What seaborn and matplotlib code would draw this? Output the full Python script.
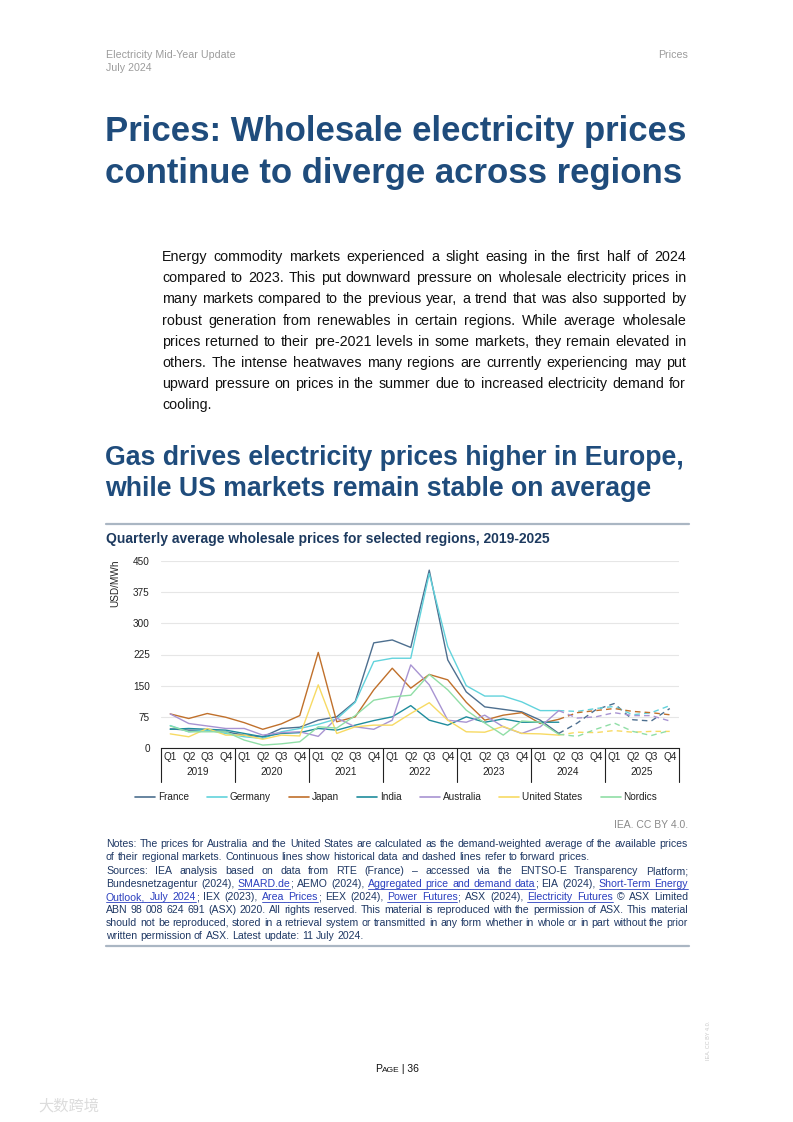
import numpy as np
import seaborn as sns
import matplotlib.pyplot as plt
import matplotlib.transforms as mtransforms
from matplotlib.lines import Line2D

W, H = 793, 1122

#------------------------------------------------------------------------------
# data (USD/MWh), quarters Q1 2019 .. Q4 2025
years = ['2019', '2020', '2021', '2022', '2023', '2024', '2025']
quarters = ['Q1', 'Q2', 'Q3', 'Q4']
regions = ['France', 'Germany', 'Japan', 'India', 'Australia', 'United States', 'Nordics']

# historical: Q1 2019 .. Q2 2024
france_hist = [46, 43, 42, 39, 31, 27, 47, 50, 67, 75, 112, 253, 260, 242, 428, 212, 135, 99, 93, 87, 67, 35]
germany_hist = [54, 39, 43, 35, 27, 23, 39, 47, 57, 70, 110, 208, 216, 216, 420, 244, 150, 125, 125, 111, 90, 90]
japan_hist = [82, 71, 83, 74, 61, 45, 58, 78, 230, 63, 75, 140, 192, 144, 177, 164, 110, 67, 79, 85, 59, 69]
india_hist = [45, 47, 45, 43, 35, 27, 35, 37, 47, 43, 55, 66, 75, 102, 67, 55, 75, 62, 70, 62, 62, 62]
australia_hist = [82, 59, 53, 47, 47, 31, 37, 39, 28, 72, 51, 45, 67, 200, 152, 67, 62, 79, 51, 35, 51, 90]
us_hist = [34, 27, 47, 31, 31, 21, 31, 29, 152, 35, 51, 55, 55, 83, 109, 67, 39, 38, 52, 35, 34, 31]
nordics_hist = [53, 39, 39, 39, 19, 7, 10, 15, 51, 48, 78, 115, 123, 127, 177, 140, 91, 60, 31, 65, 62, 33]

# forward: Q2 2024 .. Q4 2025
france_fwd = [35, 60, 92, 107, 68, 65, 95]
germany_fwd = [90, 88, 95, 100, 80, 85, 102]
japan_fwd = [69, 85, 90, 95, 88, 85, 80]
india_fwd = []
australia_fwd = [90, 72, 75, 85, 78, 78, 65]
us_fwd = [31, 38, 37, 42, 38, 40, 40]
nordics_fwd = [33, 28, 45, 60, 40, 30, 42]

hist = [france_hist, germany_hist, japan_hist, india_hist, australia_hist, us_hist, nordics_hist]
fwd = [france_fwd, germany_fwd, japan_fwd, india_fwd, australia_fwd, us_fwd, nordics_fwd]
colors = ['#4D6F8F', '#62D3DC', '#C0702B', '#1F8C9C', '#A894D2', '#F7DA63', '#90DEA6']

#------------------------------------------------------------------------------
sns.set_theme(style='white')
plt.rcParams['font.family'] = ['Liberation Sans', 'DejaVu Sans']

fig = plt.figure(figsize=(W / 100, H / 100), dpi=100)
renderer = fig.canvas.get_renderer()


def fx(px):
    return px / W


def fy(py):
    return 1 - py / H


def text_width(s, size, weight='normal'):
    t = fig.text(0, 0, s, fontsize=size, fontweight=weight)
    w = t.get_window_extent(renderer).width
    t.remove()
    return w


def parse_line(line):
    # words as lists of (segment, is_link); also link state of each space
    words, gaps, cur, seg, link = [], [], [], '', False
    for ch in line:
        if ch in '{}':
            if seg:
                cur.append((seg, link))
                seg = ''
            link = (ch == '{')
        elif ch == ' ':
            if seg:
                cur.append((seg, link))
                seg = ''
            words.append(cur)
            gaps.append(link)
            cur = []
        else:
            seg += ch
    if seg:
        cur.append((seg, link))
    if cur:
        words.append(cur)
    return words, gaps


def justified(lines, x0, x1, baselines, size, color, last=(), weight='normal',
              link_color='#2B3FBF'):
    space = text_width('a a', size, weight) - text_width('aa', size, weight)
    for i, (line, yb) in enumerate(zip(lines, baselines)):
        words, gaps = parse_line(line)
        widths = [[text_width(s, size, weight) for s, _ in w] for w in words]
        total = sum(sum(w) for w in widths)
        if i in last or len(words) < 2:
            gap = space
        else:
            gap = (x1 - x0 - total) / (len(words) - 1)
        x = x0
        for j, (w, ws) in enumerate(zip(words, widths)):
            for (s, lk), sw in zip(w, ws):
                fig.text(fx(x), fy(yb), s, fontsize=size, fontweight=weight,
                         color=link_color if lk else color, va='baseline', ha='left')
                if lk:
                    fig.add_artist(Line2D([fx(x), fx(x + sw)], [fy(yb + 1.6)] * 2,
                                          transform=fig.transFigure, lw=0.6, color=link_color))
                x += sw
            if j < len(gaps) and gaps[j] and j + 1 < len(words):
                fig.add_artist(Line2D([fx(x), fx(x + gap)], [fy(yb + 1.6)] * 2,
                                      transform=fig.transFigure, lw=0.6, color=link_color))
            x += gap


#------------------------------------------------------------------------------
# page header
grey = '#9C9C9C'
fig.text(fx(106), fy(58), 'Electricity Mid-Year Update', fontsize=7.7, color=grey, va='baseline')
fig.text(fx(106), fy(71), 'July 2024', fontsize=7.7, color=grey, va='baseline')
fig.text(fx(688), fy(58), 'Prices', fontsize=7.7, color=grey, va='baseline', ha='right')

title_blue = '#1F4C7C'
fig.text(fx(105), fy(141), 'Prices: Wholesale electricity prices', fontsize=25,
         fontweight='bold', color=title_blue, va='baseline')
fig.text(fx(105), fy(183), 'continue to diverge across regions', fontsize=25,
         fontweight='bold', color=title_blue, va='baseline')

body = [
    'Energy commodity markets experienced a slight easing in the first half of 2024',
    'compared to 2023. This put downward pressure on wholesale electricity prices in',
    'many markets compared to the previous year, a trend that was also supported by',
    'robust generation from renewables in certain regions. While average wholesale',
    'prices returned to their pre-2021 levels in some markets, they remain elevated in',
    'others. The intense heatwaves many regions are currently experiencing may put',
    'upward pressure on prices in the summer due to increased electricity demand for',
    'cooling.',
]
justified(body, 162, 686, [261 + 21.2 * i for i in range(8)], 10.3, '#111111', last=(7,))

fig.text(fx(105), fy(465), 'Gas drives electricity prices higher in Europe,', fontsize=19.2,
         fontweight='bold', color=title_blue, va='baseline')
fig.text(fx(105), fy(496), 'while US markets remain stable on average', fontsize=19.2,
         fontweight='bold', color=title_blue, va='baseline')

rule = '#AAB6C3'
fig.add_artist(Line2D([fx(106), fx(689)], [fy(524)] * 2, transform=fig.transFigure, lw=1.6, color=rule))
fig.add_artist(Line2D([fx(106), fx(689)], [fy(946)] * 2, transform=fig.transFigure, lw=1.6, color=rule))

fig.text(fx(106), fy(543), 'Quarterly average wholesale prices for selected regions, 2019-2025',
         fontsize=10, fontweight='bold', color='#1D3A5F', va='baseline')

#------------------------------------------------------------------------------
# chart
ax = fig.add_axes([fx(161), fy(748), (679 - 161) / W, 187 / H])
lw = 1.0
for i, name in enumerate(regions):
    sns.lineplot(x=np.arange(len(hist[i])), y=hist[i], color=colors[i], linewidth=lw, ax=ax)
    if fwd[i]:
        start = len(hist[i]) - 1
        sns.lineplot(x=np.arange(start, start + len(fwd[i])), y=fwd[i], color=colors[i],
                     linewidth=lw, ax=ax)
        ax.lines[-1].set_dashes((4, 3))

ax.set_xlim(-0.5, 27.5)
ax.set_ylim(0, 450)
ax.set_yticks(range(0, 451, 75))
ax.grid(axis='y', color='#E6E6E6', lw=0.8)
ax.grid(axis='x', visible=False)
for s in ['top', 'right', 'left']:
    ax.spines[s].set_visible(False)
ax.spines['bottom'].set_color('#222222')
ax.spines['bottom'].set_linewidth(0.8)
ax.set_xticks(range(28))
ax.set_xticklabels(quarters * len(years))
ax.tick_params(axis='x', length=0, pad=3, labelsize=7.2, labelcolor='#222222')
ax.tick_params(axis='y', length=0, pad=8, labelsize=7.2, labelcolor='#222222')
ax.set_xlabel('')
ax.set_ylabel('')

blend = mtransforms.blended_transform_factory(ax.transData, ax.transAxes)
for k, yr in enumerate(years):
    ax.text(1.5 + 4 * k, -0.128, yr, transform=blend, ha='center', va='center',
            fontsize=7.2, color='#222222')
for k in range(len(years) + 1):
    ax.plot([-0.5 + 4 * k] * 2, [0, -0.182], transform=blend, clip_on=False,
            color='#222222', lw=0.8)

fig.text(fx(115), fy(583), 'USD/MWh', rotation=90, fontsize=7.2, color='#222222',
         ha='center', va='center')

handles = [Line2D([0], [0], color=c, lw=1.2) for c in colors]
fig.legend(handles, regions, loc='center', bbox_to_anchor=(fx(396), fy(797)), ncol=7,
           frameon=False, fontsize=7.2, handlelength=2.0, handletextpad=0.3,
           columnspacing=1.8, labelcolor='#222222')

#------------------------------------------------------------------------------
# source and notes
fig.text(fx(688), fy(828), 'IEA. CC BY 4.0.', fontsize=7.5, color='#8A8A8A', ha='right', va='baseline')

notes = [
    'Notes: The prices for Australia and the United States are calculated as the demand-weighted average of the available prices',
    'of their regional markets. Continuous lines show historical data and dashed lines refer to forward prices.',
    'Sources: IEA analysis based on data from RTE (France) \u2013 accessed via the ENTSO-E Transparency Platform;',
    'Bundesnetzagentur (2024), {SMARD.de}; AEMO (2024), {Aggregated price and demand data}; EIA (2024), {Short-Term Energy}',
    '{Outlook, July 2024}; IEX (2023), {Area Prices}; EEX (2024), {Power Futures}; ASX (2024), {Electricity Futures} \u00a9 ASX Limited',
    'ABN 98 008 624 691 (ASX) 2020. All rights reserved. This material is reproduced with the permission of ASX. This material',
    'should not be reproduced, stored in a retrieval system or transmitted in any form whether in whole or in part without the prior',
    'written permission of ASX. Latest update: 11 July 2024.',
]
note_y = [847, 860, 874, 887, 900, 913, 926, 939]
justified(notes, 106, 688, note_y, 7.6, '#1F3864', last=(1, 7))

#------------------------------------------------------------------------------
# footer
pieces = [('P', 7.5), ('AGE', 6.0), (' | 36', 7.5)]
widths = [text_width(s, sz) for s, sz in pieces]
x = 397 - sum(widths) / 2
for (s, sz), w in zip(pieces, widths):
    fig.text(fx(x), fy(1072), s, fontsize=sz, color='#111111', va='baseline')
    x += w

fig.text(fx(708), fy(1040), 'IEA. CC BY 4.0.', rotation=90, fontsize=4, color='#C8C8C8',
         ha='center', va='center')
fig.text(fx(38), fy(1106), '大数跨境', fontsize=11, color='#DCDCDC', va='center',
         family=['Noto Sans CJK SC', 'DejaVu Sans'])

fig.savefig('out.png', dpi=100)
